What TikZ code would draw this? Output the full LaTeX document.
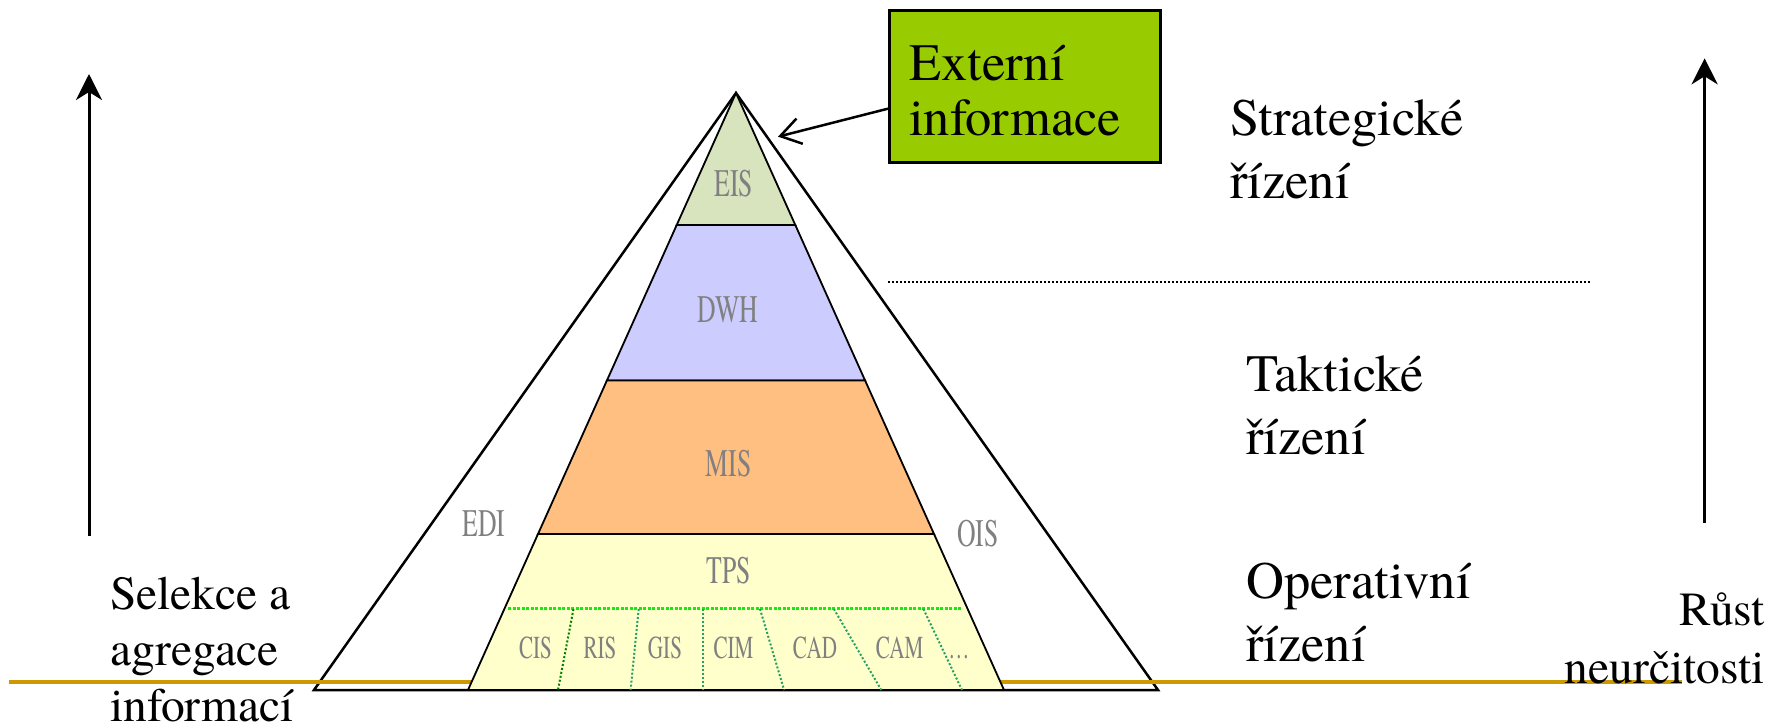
\documentclass[tikz,border=0pt]{standalone}
\usepackage{fontspec}
\usepackage{graphicx}
\IfFontExistsTF{texgyretermes-regular.otf}{%
  \setmainfont{texgyretermes}[Extension=.otf, UprightFont=*-regular, BoldFont=*-bold, ItalicFont=*-italic, BoldItalicFont=*-bolditalic]%
}{\setmainfont{Liberation Serif}}
\usetikzlibrary{arrows.meta,calc}
\definecolor{eisc}{HTML}{D7E4BD}
\definecolor{dwhc}{HTML}{CCCCFF}
\definecolor{misc}{HTML}{FFBF80}
\definecolor{tpsc}{HTML}{FFFFCC}
\definecolor{extc}{HTML}{99CC00}
\definecolor{goldc}{HTML}{CC9900}
\definecolor{labgray}{HTML}{808080}
\definecolor{limec}{RGB}{20,235,20}
\definecolor{subgreen}{RGB}{40,160,100}
\definecolor{darkgr}{RGB}{0,128,0}
\newcommand\stackL[1]{\vtop{\lineskiplimit=-1000pt\lineskip=0pt\halign{##\hfil\cr#1\crcr}}}
\newcommand\stackR[1]{\vtop{\lineskiplimit=-1000pt\lineskip=0pt\halign{\hfil##\cr#1\crcr}}}
\newcommand\cnd[1]{\scalebox{0.66}[1]{#1}}
\tikzset{
  bigtxt/.style={font=\fontsize{52.5}{63}\selectfont, inner sep=0pt},
  sidetxt/.style={inner sep=0pt},
  laylbl/.style={font=\fontsize{39}{39}\selectfont, text=labgray, inner sep=0pt, anchor=base},
  sublbl/.style={font=\fontsize{32}{32}\selectfont, text=labgray, inner sep=0pt, anchor=base},
  layer/.style={draw=black, line width=1.8pt, line join=miter},
  updown/.style={line width=3pt, -{Stealth[length=26pt,width=26pt,inset=8pt]}},
  subdiv/.style={draw=subgreen, line width=2pt, dash pattern=on 2pt off 2pt},
  extbox/.style={draw=black, line width=3pt, fill=extc, inner sep=0pt},
}
\begin{document}
\begin{tikzpicture}[x=1pt,y=-1pt]
\useasboundingbox (0,0) rectangle (1781,728);
% outer triangle
\draw[line width=2.5pt, line join=miter] (736,93) -- (314,690) -- (1158,690) -- cycle;
% gold ground line
\draw[goldc, line width=4pt] (9,682) -- (1682,682);
% layers
\path[layer, fill=eisc] (736,93) -- (676.7,225) -- (795.3,225) -- cycle;
\path[layer, fill=dwhc] (676.7,225) -- (606.9,380.5) -- (865.1,380.5) -- (795.3,225) -- cycle;
\path[layer, fill=misc] (606.9,380.5) -- (538,534) -- (934,534) -- (865.1,380.5) -- cycle;
\path[layer, fill=tpsc] (538,534) -- (468,690) -- (1004,690) -- (934,534) -- cycle;
\draw[line width=2.5pt] (314,690) -- (1158,690);
% subdivisions
\draw[limec, line width=3pt, dash pattern=on 3pt off 1.5pt] (508,608) -- (962,608);
\draw[subdiv, draw=darkgr] (573.5,609) -- (558,690);
\draw[subdiv] (638.7,609) -- (630.6,690);
\draw[subdiv] (703.3,609) -- (703.3,690);
\draw[subdiv] (760,609) -- (784.1,690);
\draw[subdiv] (833.9,609) -- (881.3,690);
\draw[subdiv] (923.4,609) -- (962,690);
% layer labels
\node[laylbl] (eis) at (733.6,196.7) {\cnd{EIS}};
\node[laylbl] (dwh) at (728,322) {\cnd{DWH}};
\node[laylbl] (mis) at (728.8,476.7) {\cnd{MIS}};
\node[laylbl] (tps) at (728.8,583.3) {\cnd{TPS}};
\node[laylbl] (edi) at (484,536) {\cnd{EDI}};
\node[laylbl] (ois) at (978,546.7) {\cnd{OIS}};
\node[sublbl] (cis) at (535.5,658.3) {\cnd{CIS}};
\node[sublbl] (ris) at (600,658.3) {\cnd{RIS}};
\node[sublbl] (gis) at (665,658.3) {\cnd{GIS}};
\node[sublbl] (cim) at (733.5,658.3) {\cnd{CIM}};
\node[sublbl] (cad) at (815,658.3) {\cnd{CAD}};
\node[sublbl] (cam) at (899.7,658.3) {\cnd{CAM}};
\node[sublbl] (etc) at (959,658.3) {\cnd{…}};
% external information box
\node[extbox, anchor=north west, minimum width=271pt, minimum height=152pt] (ext) at (888,9) {};
\node[bigtxt, anchor=base west, font=\fontsize{52.5}{55}\selectfont] (extt) at (909,80) {\stackL{Externí\cr informace}};
\coordinate (extTip) at (778,136.7);
\draw[line width=2.5pt, -{Straight Barb[length=20pt,width=26pt]}] ($(ext.north west)!0.643!(ext.south west)$) -- (extTip);
% dotted separator
\coordinate (sepA) at (888,282);
\coordinate (sepB) at (1591,282);
\draw[line width=1.6pt, dash pattern=on 1.6pt off 2.4pt] (sepA) -- (sepB);
% right column
\node[bigtxt, anchor=base west] (strat) at (1230,135) {\stackL{Strategické\cr řízení}};
\node[bigtxt, anchor=base west] (takt) at (1246,391.7) {\stackL{Taktické\cr řízení}};
\node[bigtxt, anchor=base west] (oper) at (1246,598) {\stackL{Operativní\cr řízení}};
% side texts
\node[sidetxt, anchor=base west, font=\fontsize{47.5}{56}\selectfont] (sel) at (110,609) {\stackL{Selekce a\cr agregace\cr informací}};
\node[sidetxt, anchor=base east, font=\fontsize{47.5}{58}\selectfont] (rust) at (1765,625) {\stackR{Růst\cr neurčitosti}};
% side arrows
\coordinate (la0) at (89,536);
\coordinate (la1) at (89,74);
\coordinate (ra0) at (1704.6,522.7);
\coordinate (ra1) at (1704.6,58.3);
\draw[updown] (la0) -- (la1);
\draw[updown] (ra0) -- (ra1);
\end{tikzpicture}
\end{document}
